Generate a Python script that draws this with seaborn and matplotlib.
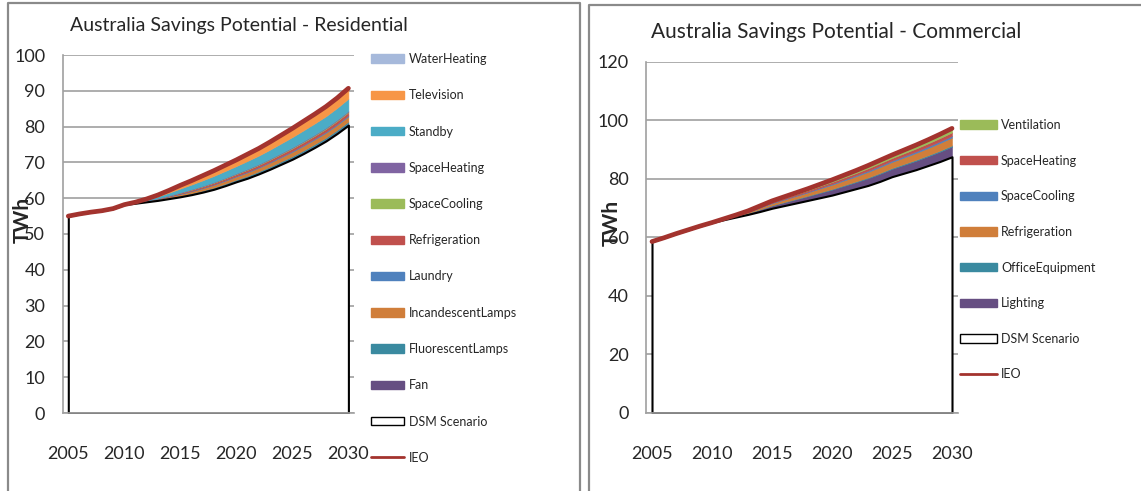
import numpy as np
import matplotlib
matplotlib.use("Agg")
import matplotlib.pyplot as plt
import seaborn as sns
from matplotlib.patches import Patch
from matplotlib.lines import Line2D

years = list(range(2005, 2031))

# Residential (TWh)
res_dsm = [55.0, 55.6, 56.1, 56.5, 57.1, 58.2, 58.6, 59.0, 59.4, 59.9, 60.4, 61.0, 61.7,
           62.5, 63.5, 64.6, 65.6, 66.8, 68.1, 69.5, 70.9, 72.5, 74.2, 76.0, 78.1, 80.4]
res_fan = [0, 0, 0, 0, 0, 0, 0.02, 0.04, 0.08, 0.12, 0.16, 0.20, 0.23, 0.26, 0.29, 0.31,
           0.34, 0.36, 0.38, 0.41, 0.43, 0.45, 0.47, 0.48, 0.50, 0.52]
res_fluor = [0, 0, 0, 0, 0, 0, 0.01, 0.04, 0.07, 0.11, 0.15, 0.19, 0.22, 0.25, 0.28, 0.30,
             0.33, 0.35, 0.37, 0.40, 0.42, 0.44, 0.46, 0.47, 0.49, 0.50]
res_incand = [0, 0, 0, 0, 0, 0, 0.04, 0.11, 0.21, 0.32, 0.45, 0.55, 0.64, 0.73, 0.80, 0.85,
              0.94, 0.99, 1.06, 1.13, 1.20, 1.26, 1.30, 1.34, 1.39, 1.44]
res_laundry = [0, 0, 0, 0, 0, 0, 0.01, 0.02, 0.05, 0.07, 0.10, 0.12, 0.14, 0.16, 0.17, 0.18,
               0.20, 0.21, 0.23, 0.24, 0.26, 0.27, 0.28, 0.29, 0.30, 0.31]
res_refrig = [0, 0, 0, 0, 0, 0, 0.02, 0.06, 0.12, 0.18, 0.26, 0.31, 0.37, 0.42, 0.46, 0.49,
              0.54, 0.57, 0.61, 0.65, 0.69, 0.72, 0.74, 0.77, 0.79, 0.82]
res_cool = [0, 0, 0, 0, 0, 0, 0.01, 0.02, 0.03, 0.05, 0.06, 0.08, 0.09, 0.10, 0.11, 0.12,
            0.13, 0.14, 0.15, 0.16, 0.17, 0.18, 0.19, 0.19, 0.20, 0.21]
res_heat = [0, 0, 0, 0, 0, 0, 0.01, 0.02, 0.03, 0.05, 0.06, 0.08, 0.09, 0.10, 0.11, 0.12,
            0.13, 0.14, 0.15, 0.16, 0.17, 0.18, 0.19, 0.19, 0.20, 0.21]
res_standby = [0, 0, 0, 0, 0, 0, 0.10, 0.26, 0.50, 0.76, 1.06, 1.29, 1.52, 1.72, 1.88, 2.01,
               2.21, 2.34, 2.51, 2.67, 2.84, 2.97, 3.07, 3.17, 3.27, 3.40]
res_tv = [0, 0, 0, 0, 0, 0, 0.08, 0.22, 0.41, 0.62, 0.86, 1.05, 1.24, 1.40, 1.54, 1.65,
          1.81, 1.92, 2.05, 2.19, 2.32, 2.43, 2.51, 2.59, 2.67, 2.78]
res_water = [0, 0, 0, 0, 0, 0, 0.00, 0.01, 0.01, 0.02, 0.03, 0.04, 0.05, 0.05, 0.06, 0.06,
             0.07, 0.07, 0.08, 0.08, 0.09, 0.09, 0.09, 0.10, 0.10, 0.10]
res_ieo = [55.0, 55.6, 56.1, 56.5, 57.1, 58.2, 58.9, 59.8, 60.9, 62.2, 63.6, 64.9, 66.3,
           67.7, 69.2, 70.7, 72.3, 73.9, 75.7, 77.6, 79.5, 81.5, 83.5, 85.6, 88.0, 90.7]
res_names = ["Fan", "FluorescentLamps", "IncandescentLamps", "Laundry", "Refrigeration",
             "SpaceCooling", "SpaceHeating", "Standby", "Television", "WaterHeating"]
res_colors = ["#664E82", "#3A8AA0", "#D07E3A", "#4F81BD", "#C0504D",
              "#9BBB59", "#8064A2", "#4BACC6", "#F79646", "#A6B9DB"]

# Commercial (TWh)
com_dsm = [58.5, 59.8, 61.2, 62.5, 63.8, 65.0, 66.0, 66.9, 67.8, 68.8, 69.9, 70.8, 71.7,
           72.6, 73.5, 74.4, 75.5, 76.6, 77.7, 79.1, 80.7, 81.9, 83.1, 84.5, 85.9, 87.5]
com_light = [0, 0, 0, 0, 0, 0, 0.11, 0.25, 0.43, 0.68, 0.90, 1.08, 1.26, 1.44, 1.66, 1.87,
             2.05, 2.23, 2.45, 2.59, 2.66, 2.84, 3.02, 3.17, 3.35, 3.49]
com_office = [0, 0, 0, 0, 0, 0, 0.01, 0.03, 0.05, 0.08, 0.10, 0.12, 0.14, 0.16, 0.18, 0.21,
              0.23, 0.25, 0.27, 0.29, 0.30, 0.32, 0.34, 0.35, 0.37, 0.39]
com_refrig = [0, 0, 0, 0, 0, 0, 0.08, 0.20, 0.34, 0.53, 0.70, 0.84, 0.98, 1.12, 1.29, 1.46,
              1.60, 1.74, 1.90, 2.02, 2.07, 2.21, 2.35, 2.46, 2.60, 2.72]
com_cool = [0, 0, 0, 0, 0, 0, 0.02, 0.04, 0.07, 0.11, 0.15, 0.18, 0.21, 0.24, 0.28, 0.31,
            0.34, 0.37, 0.41, 0.43, 0.44, 0.47, 0.50, 0.53, 0.56, 0.58]
com_heat = [0, 0, 0, 0, 0, 0, 0.04, 0.08, 0.14, 0.23, 0.30, 0.36, 0.42, 0.48, 0.55, 0.62,
            0.68, 0.74, 0.82, 0.86, 0.89, 0.95, 1.01, 1.06, 1.12, 1.16]
com_vent = [0, 0, 0, 0, 0, 0, 0.04, 0.10, 0.17, 0.27, 0.35, 0.42, 0.49, 0.56, 0.64, 0.73,
            0.80, 0.87, 0.95, 1.01, 1.04, 1.11, 1.18, 1.23, 1.30, 1.36]
com_ieo = [58.5, 59.8, 61.2, 62.5, 63.8, 65.0, 66.3, 67.6, 69.0, 70.7, 72.4, 73.8, 75.2,
           76.6, 78.1, 79.6, 81.2, 82.8, 84.5, 86.3, 88.1, 89.8, 91.5, 93.3, 95.2, 97.2]
com_names = ["Lighting", "OfficeEquipment", "Refrigeration", "SpaceCooling",
             "SpaceHeating", "Ventilation"]
com_colors = ["#664E82", "#3A8AA0", "#D07E3A", "#4F81BD", "#C0504D", "#9BBB59"]

sns.set_style("white")
plt.rcParams["font.family"] = ["Lato", "DejaVu Sans"]

W, H = 1141, 491
GRID = "#A0A0A0"
IEO_C = "#A3332E"


def fx(x):
    return x / W


def fy(y):
    return 1 - y / H


fig = plt.figure(figsize=(W / 100, H / 100), dpi=100)

# panel frames
fig.add_artist(Line2D([fx(7.5), fx(7.5), fx(579.5), fx(579.5)], [0, fy(3), fy(3), 0],
                      transform=fig.transFigure, color="#8A8A8A", lw=1.6))
fig.add_artist(Line2D([fx(589), fx(589), 1.0], [0, fy(4.7), fy(4.7)],
                      transform=fig.transFigure, color="#8A8A8A", lw=1.6))


def draw(box, dsm, layers, lnames, colors, ieo, ymax, ystep, title, tpos, tsize,
         ylab_pos, leg_pos, hlen, htpad, lspace):
    l, r, t, b = box
    ax = fig.add_axes([fx(l), fy(b), (r - l) / W, (b - t) / H])
    ax.set_axisbelow(True)
    polys = ax.stackplot(years, dsm, *layers, colors=["white"] + colors)
    for p, c in zip(polys[1:], colors):
        p.set_edgecolor(c)
        p.set_linewidth(0.4)
    polys[0].set_edgecolor("black")
    polys[0].set_linewidth(1.5)
    polys[0].set_zorder(2.5)
    sns.lineplot(x=years, y=ieo, ax=ax, color=IEO_C, lw=3.4, zorder=4, legend=False)

    ax.set_xlim(2004.5, 2030.5)
    ax.set_ylim(0, ymax)
    ax.set_yticks(np.arange(0, ymax + 1, ystep))
    ax.set_xticks(range(2005, 2031, 5))
    ax.set_xticklabels([str(y) for y in range(2005, 2031, 5)])
    ax.set_xticks(np.arange(2004.5, 2031, 1), minor=True)
    ax.tick_params(axis="x", which="major", length=0, pad=24, labelsize=13)
    ax.tick_params(axis="x", which="minor", length=5.8, color=GRID, width=1, direction="out")
    ax.tick_params(axis="y", length=3.6, color=GRID, width=1, labelsize=13, pad=9)
    ax.grid(axis="y", color=GRID, lw=1.2)
    ax.grid(axis="x", visible=False)
    for s in ["top", "right"]:
        ax.spines[s].set_visible(False)
    for s in ["left", "bottom"]:
        ax.spines[s].set_color(GRID)
        ax.spines[s].set_linewidth(1.2)

    ax.set_ylabel("TWh", fontsize=15, fontweight="bold", va="center")
    ax.yaxis.set_label_coords((ylab_pos[0] - l) / (r - l), (b - ylab_pos[1]) / (b - t))
    fig.text(fx(tpos[0]), fy(tpos[1]), title, fontsize=tsize, ha="center", va="center")

    handles = [Patch(facecolor=c, edgecolor=c, label=n) for n, c in zip(lnames, colors)][::-1]
    handles.append(Patch(facecolor="white", edgecolor="black", lw=1, label="DSM Scenario"))
    handles.append(Line2D([0], [0], color=IEO_C, lw=2, label="IEO"))
    fig.legend(handles=handles, loc="upper left",
               bbox_to_anchor=(fx(leg_pos[0]), fy(leg_pos[1])),
               frameon=False, fontsize=9, borderpad=0, borderaxespad=0,
               handlelength=hlen, handleheight=0.65, handletextpad=htpad,
               labelspacing=lspace)
    return ax


draw((62.7, 354, 55, 413), res_dsm,
     [res_fan, res_fluor, res_incand, res_laundry, res_refrig, res_cool, res_heat,
      res_standby, res_tv, res_water],
     res_names, res_colors, res_ieo, 100, 10,
     "Australia Savings Potential - Residential", (239, 25), 14,
     (23, 220), (371, 53), 2.64, 0.4, 1.94)

draw((646, 958, 61.7, 412.7), com_dsm,
     [com_light, com_office, com_refrig, com_cool, com_heat, com_vent],
     com_names, com_colors, com_ieo, 120, 20,
     "Australia Savings Potential - Commercial", (836, 32), 15,
     (612, 223), (960, 119), 2.96, 0.32, 1.89)

fig.savefig("out.png", dpi=100)
